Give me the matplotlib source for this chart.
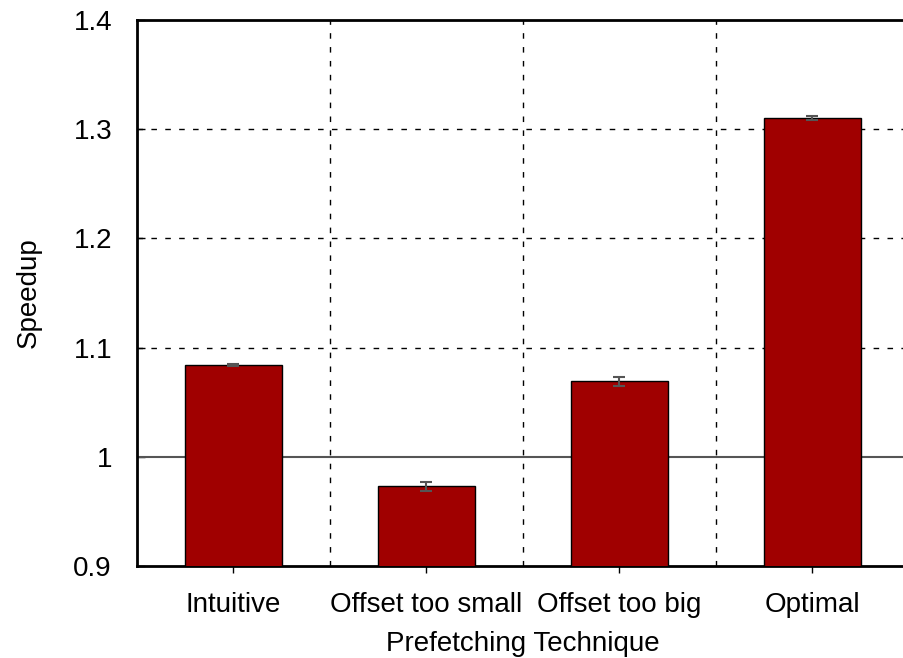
import matplotlib
matplotlib.use("Agg")
import matplotlib.pyplot as plt
import numpy as np

categories = ["Intuitive", "Offset too small", "Offset too big", "Optimal"]
speedup = [1.084, 0.973, 1.069, 1.310]
errors = [0.001, 0.004, 0.004, 0.002]

plt.rcParams["font.family"] = ["Liberation Sans", "DejaVu Sans"]
FS = 20

fig = plt.figure(figsize=(9.04, 6.58), dpi=100)
ax = fig.add_axes([137 / 904, 1 - 566 / 658, 772 / 904, 546 / 658])

x = np.arange(len(categories))
ax.bar(x, speedup, width=0.5, color="#a00000", edgecolor="black", linewidth=1.0, zorder=3)
ax.errorbar(x, speedup, yerr=errors, fmt="none", ecolor="#555555", elinewidth=1.5,
            capsize=4, capthick=1.5, zorder=4)

ax.set_xlim(-0.5, len(categories) - 0.5)
ax.set_ylim(0.9, 1.4)

# horizontal dashed grid and baseline at 1.0
for y in [1.1, 1.2, 1.3]:
    ax.axhline(y, color="black", linestyle=(0, (4, 6)), linewidth=1.0, zorder=1)
ax.axhline(1.0, color="#555555", linewidth=1.5, zorder=2)
# vertical dashed separators between categories
for xs in x[:-1] + 0.5:
    ax.axvline(xs, color="black", linestyle=(0, (4, 6)), linewidth=1.0, zorder=1)

ax.set_xticks(x)
ax.set_xticklabels(categories, fontsize=FS)
ax.set_yticks([0.9, 1.0, 1.1, 1.2, 1.3, 1.4])
ax.set_yticklabels(["0.9", "1", "1.1", "1.2", "1.3", "1.4"], fontsize=FS)
ax.tick_params(axis="y", direction="in", length=6, width=1, pad=18)
ax.tick_params(axis="x", direction="out", length=5, width=1, pad=14)

for s in ax.spines.values():
    s.set_linewidth(2)

ax.set_xlabel("Prefetching Technique", fontsize=FS, labelpad=9)
ax.set_ylabel("Speedup", fontsize=FS, labelpad=23)

fig.savefig("out.png", dpi=100)
